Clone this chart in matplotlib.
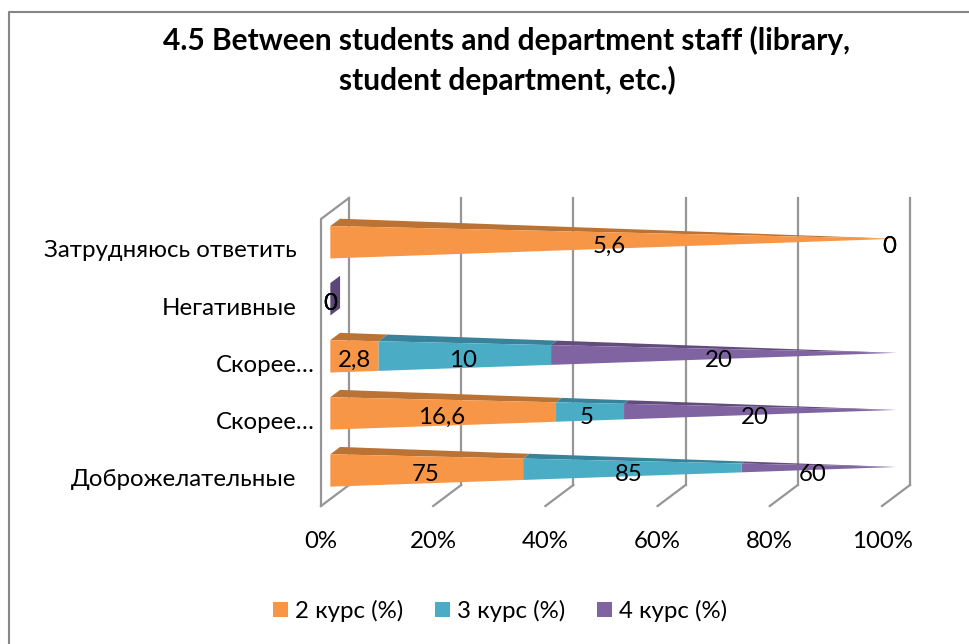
import matplotlib
matplotlib.use("Agg")
import matplotlib.pyplot as plt
from matplotlib.lines import Line2D
from matplotlib.patches import Patch, Polygon

plt.rcParams['font.family'] = ['Lato', 'Open Sans', 'DejaVu Sans']

TITLE = "4.5 Between students and department staff (library,\nstudent department, etc.)"
categories = ["Доброжелательные", "Скорее…", "Скорее…", "Негативные", "Затрудняюсь ответить"]
series_names = ["2 курс (%)", "3 курс (%)", "4 курс (%)"]
kurs2 = [75, 16.6, 2.8, 0, 5.6]
kurs3 = [85, 5, 10, 0, 0]
kurs4 = [60, 20, 20, 0, 0]
kurs2_labels = ["75", "16,6", "2,8", "0", "5,6"]
kurs3_labels = ["85", "5", "10", "0", "0"]
kurs4_labels = ["60", "20", "20", "0", "0"]
x_ticks = [0, 20, 40, 60, 80, 100]
x_tick_labels = ["0%", "20%", "40%", "60%", "80%", "100%"]

front_cols = ["#F79646", "#4BACC6", "#8064A2"]
top_cols = ["#BB7335", "#39839A", "#614C7C"]
base_col = "#5B4775"
grid_col = "#969696"

W, H = 970, 644
FS = 17.3
fig = plt.figure(figsize=(W / 100, H / 100), dpi=100)
fig.patch.set_facecolor("white")
# chart frame: only the left and top edges are in view
fig.add_artist(Line2D([9 / W, 9 / W, 1.0], [0, 1 - 12 / H, 1 - 12 / H], transform=fig.transFigure,
                      color="#868686", lw=1.5))

# front plane of the 3D box: x 321..882 px, y 219..506 px
YTOP = 4.53
ax = fig.add_axes([321 / W, 1 - 506 / H, 561 / W, 287 / H])
ax.set_xlim(0, 100)
ax.set_ylim(-0.5, YTOP)
ax.patch.set_visible(False)
for s in ax.spines.values():
    s.set_visible(False)

DX = 28 / 5.61       # full depth shift in x units
DY = 21 / 57.05      # full depth shift in y units
HALF = 16.2 / 57.05  # bar half height


def proj(t, row, depth, up):
    """t: fraction along the bar, depth: 0 front..1 back, up: relative height."""
    return (100 * t + DX * depth, row + DY * depth + up * HALF)


def shape(t, row, face):
    """Point of a pyramid section at fraction t for one face corner."""
    taper = 1 - t
    front = 0.5 - taper / 6
    back = 0.5 + taper / 5.5
    if face == "ft":
        return proj(t, row, front, taper)
    if face == "fb":
        return proj(t, row, front, -taper)
    if face == "bt":
        return proj(t, row, back, taper)
    return proj(t, row, back, -taper)


# walls and floor
for v in x_ticks:
    ax.plot([v + DX, v + DX], [-0.5 + DY, YTOP + DY], color=grid_col, lw=1.6, clip_on=False, zorder=1)
    ax.plot([v, v + DX], [-0.5, -0.5 + DY], color=grid_col, lw=1.6, clip_on=False, zorder=1)
ax.plot([0, 0, DX], [-0.5, YTOP, YTOP + DY], color=grid_col, lw=1.6, clip_on=False, zorder=1)

series = [kurs2, kurs3, kurs4]
label_sets = [kurs2_labels, kurs3_labels, kurs4_labels]

for row in range(len(categories)):
    vals = [s[row] for s in series]
    total = sum(vals)
    if total == 0:
        pts = [shape(0, row, "fb"), shape(0, row, "ft"), shape(0, row, "bt"), shape(0, row, "bb")]
        ax.add_patch(Polygon(pts, fc=base_col, ec="none", zorder=3, clip_on=False))
        edges = [0, 0, 0, 0]
    else:
        edges = [0]
        for v in vals:
            edges.append(edges[-1] + v / total)
    for i in range(3):
        t0, t1 = edges[i], edges[i + 1]
        if t1 > t0:
            top = [shape(t0, row, "ft"), shape(t0, row, "bt"), shape(t1, row, "bt"), shape(t1, row, "ft")]
            ax.add_patch(Polygon(top, fc=top_cols[i], ec="none", zorder=3, clip_on=False))
            fr = [shape(t0, row, "fb"), shape(t0, row, "ft"), shape(t1, row, "ft"), shape(t1, row, "fb")]
            ax.add_patch(Polygon(fr, fc=front_cols[i], ec="none", zorder=4, clip_on=False))
    for i in range(3):
        xc = 99.6 * (edges[i] + edges[i + 1]) / 2 + DX / 3
        yc = row + DY / 3 - 0.07
        ax.text(xc, yc, label_sets[i][row], ha="center", va="center", fontsize=FS, color="black",
                zorder=6, clip_on=False)

# category labels
ax.set_yticks([])
for row, name in enumerate(categories):
    end = -1.2 if name.endswith("…") else -1.2 - 18 / 5.61
    ax.text(end, row - 0.03, name, ha="right", va="center", fontsize=FS, color="black")

ax.set_xticks(x_ticks, x_tick_labels, fontsize=FS)
ax.tick_params(axis="x", length=0, pad=18)

# legend
handles = [Patch(fc=c, ec="none") for c in front_cols]
fig.legend(handles, series_names, loc="center", bbox_to_anchor=(500 / W, 1 - 611 / H), ncol=3,
           frameon=False, fontsize=FS, handlelength=0.625, handleheight=0.625, handletextpad=0.3,
           columnspacing=1.3)

fig.text(507 / W, 1 - 60.5 / H, TITLE, ha="center", va="center", fontsize=21.5, fontweight="bold",
         linespacing=1.45, color="black")

fig.savefig("out.png", dpi=100)
